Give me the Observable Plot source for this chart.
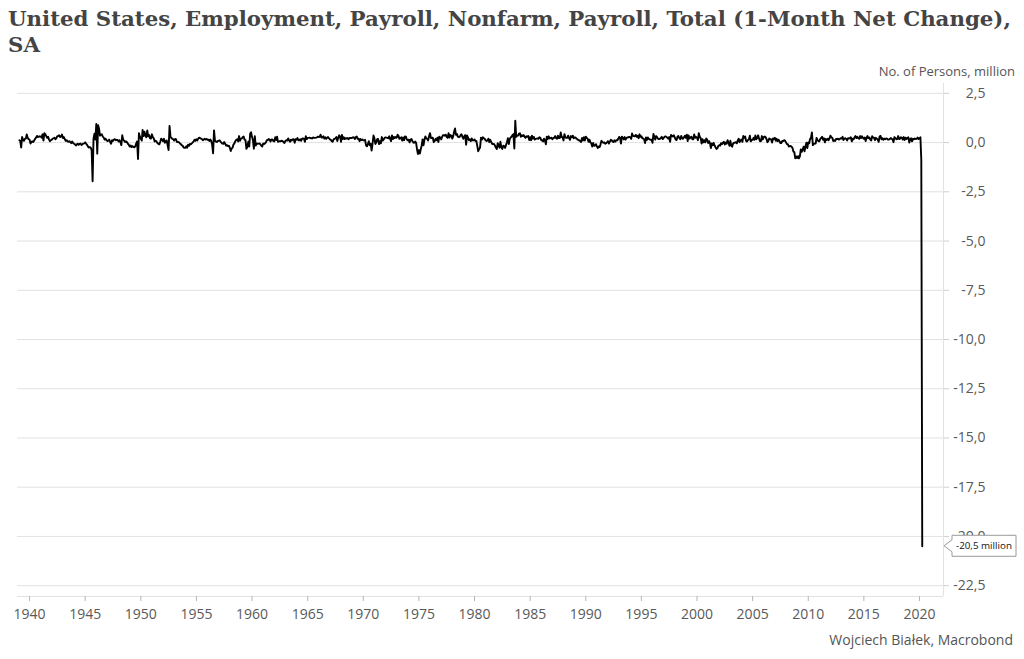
<!DOCTYPE html>
<html><head><meta charset="utf-8">
<script src="https://cdn.jsdelivr.net/npm/d3@7"></script>
<script src="https://cdn.jsdelivr.net/npm/@observablehq/plot@0.6"></script>
<style>
body{margin:0;background:#fff;}
#wrap{position:relative;width:1024px;height:659px;overflow:hidden;background:#fff;}
#title{position:absolute;left:8px;top:6px;z-index:2;font-family:"DejaVu Serif",serif;font-weight:bold;font-size:21.3px;line-height:26px;color:#444;white-space:nowrap;}
#unit{position:absolute;right:9px;top:62px;z-index:2;font-family:"Open Sans",sans-serif;font-size:13px;color:#555;}
#chart{position:absolute;left:0;top:60px;z-index:1;}
#caption{position:absolute;right:11px;top:630px;z-index:2;font-family:"Open Sans",sans-serif;font-size:14px;color:#555;}
</style></head>
<body><div id="wrap"><div id="chart"></div><div id="title">United States, Employment, Payroll, Nonfarm, Payroll, Total (1-Month Net Change),<br>SA</div><div id="unit">No. of Persons, million</div><div id="caption">Wojciech Białek, Macrobond</div></div>
<script>
// Monthly net change in nonfarm payrolls, thousands of persons
const startYear = 1939, startMonth = 1; // first value: February 1939
const d1930s = [120, 90, -250, 280, 150, 90, 190, 210, 410, 250, 170];
const d1940s = [
  150, -50, 30, 60, 30, 110, 190, 250, 340, 280, 300, 320,
  300, 250, 420, 100, 480, 420, 330, 240, 300, 150, 70, 120,
  150, 200, 220, 250, 170, 230, 320, 330, 370, 280, 300, 410,
  230, 280, 180, 90, 120, 60, 40, 70, 20, -30, 50, -20,
  -60, -90, -150, -90, -60, -110, -70, -50, -120, -90, -50, -40,
  10, -60, -110, -200, -250, -230, -250, -400, -1960, 200, 450, 150,
  950, -560, 880, 700, 350, 400, 420, 300, 250, 150, 200, 120,
  80, 100, 150, 30, -60, 120, 80, 150, 170, 120, 140, 130,
  60, 120, 30, -130, 370, 150, 100, 30, 60, 30, -60, -100,
  -200, -150, -230, -180, -220, -240, -200, -50, 60, -830, 480, 300];
const d1950s = [
  200, 100, 640, 330, 550, 350, 270, 620, 320, 380, 210, 200,
  420, 270, 220, 50, 90, 50, -20, -70, -90, 40, 200, 160,
  70, 190, -10, 70, 110, -150, -380, 850, 300, 230, 190, 170,
  100, 180, 170, 30, 30, 20, -30, -70, -130, -150, -240, -270,
  -260, -190, -260, -110, -160, -70, -90, -40, 10, 60, 150, 90,
  170, 110, 200, 250, 230, 200, 180, 120, 160, 200, 150, 180,
  140, 150, 80, 150, 90, -120, -540, 620, 90, 50, 30, 80,
  100, 110, 50, 0, -50, -60, 30, -60, -150, -130, -180, -160,
  -260, -430, -310, -260, -100, -40, 70, 140, 170, 60, 330, 90,
  200, 210, 280, 310, 150, 120, -320, -220, 50, -200, 460, 520];
const d1960s = [
  290, 100, -310, 330, -150, -50, -60, -50, -40, -90, -150, -200,
  -50, -70, -40, 10, 120, 130, 180, 140, 60, 160, 160, 80,
  60, 270, 130, 300, 40, 60, 70, 70, 100, 70, 20, -20,
  90, 120, 100, 210, 110, 40, 150, 110, 170, 170, -10, 170,
  140, 230, 120, 110, 170, 90, 200, 210, 190, 40, 320, 180,
  240, 240, 250, 230, 220, 210, 260, 240, 240, 250, 270, 300,
  280, 300, 400, 250, 260, 320, 200, 270, 190, 240, 280, 220,
  160, 140, 70, 40, 160, 190, 220, 280, 80, 240, 370, 310,
  40, 390, 180, 270, 180, 220, 200, 230, 170, 220, 240, 230,
  240, 270, 260, 180, 280, 310, 190, 200, 70, 180, 130, 160];
const d1970s = [
  110, 110, 140, -140, -190, -80, 70, -140, -60, -410, -60, 360,
  230, -70, 0, 170, 180, -80, 70, -40, 280, 100, 160, 240,
  260, 250, 240, 220, 320, 190, 70, 360, 180, 290, 230, 280,
  250, 400, 340, 190, 210, 270, 100, 260, 120, 310, 300, 160,
  120, 150, 10, 150, 180, 80, 0, -10, 50, -10, -350, -580,
  -380, -560, -350, -160, 160, -140, 140, 310, 210, 190, 110, 330,
  480, 230, 230, 250, 20, 70, 190, 120, 250, 30, 300, 250,
  160, 290, 380, 370, 350, 400, 290, 240, 480, 260, 380, 350,
  200, 330, 550, 720, 390, 440, 300, 280, 290, 380, 420, 280,
  200, 330, 380, -110, 360, 250, 120, 170, 70, 210, 110, 110];
const d1980s = [
  160, 80, 80, -170, -440, -330, -260, 250, 150, 270, 220, 190,
  110, 80, 110, 200, 20, 140, 40, -60, -80, -70, -150, -250,
  -330, -30, -140, -260, 40, -240, -320, -160, -180, -270, -120, 20,
  220, -80, 160, 260, 300, 380, 430, -300, 1110, 290, 350, 360,
  450, 470, 290, 370, 330, 380, 300, 240, 320, 290, 340, 130,
  270, 120, 350, 200, 290, 150, 190, 200, 210, 190, 270, 240,
  120, 120, 60, 200, 110, -90, 300, 180, 320, 210, 230, 250,
  170, 230, 240, 330, 230, 190, 350, 230, 230, 510, 280, 270,
  110, 430, 270, 240, 240, 350, 230, 140, 330, 270, 350, 220,
  260, 260, 200, 170, 120, 120, 70, 30, 240, 110, 270, 100];
const d1990s = [
  300, 240, 200, 40, 150, 10, -30, -200, -20, -160, -150, -80,
  -190, -270, -200, -230, -90, 90, 20, -10, 10, -60, -30, 10,
  70, -50, 50, 140, 110, 50, 30, 120, 50, 120, 110, 190,
  290, 240, -50, 300, 250, 160, 280, 150, 240, 260, 270, 290,
  270, 190, 460, 340, 330, 320, 390, 290, 350, 220, 420, 290,
  320, 220, 210, 170, -20, 260, 130, 260, 190, 160, 140, 150,
  -10, 440, 290, 150, 330, 280, 190, 180, 190, 240, 290, 180,
  230, 300, 310, 290, 250, 200, 280, 40, 390, 340, 310, 370,
  260, 150, 130, 300, 330, 230, 170, 340, 220, 190, 270, 350,
  240, 400, 80, 360, 200, 260, 300, 170, 170, 410, 240, 290];
const d2000s = [
  250, 120, 480, 290, 230, -50, 170, 10, 120, 10, 210, 140,
  -20, 70, -30, -280, -40, -130, -20, -150, -240, -320, -290, -170,
  -130, -150, -30, -80, -10, 40, -100, 0, -60, 120, 10, -160,
  90, -160, -210, -50, -10, 0, 20, -40, 110, 200, 20, 110,
  160, 40, 340, 250, 310, 80, 50, 130, 160, 350, 60, 130,
  140, 240, 140, 360, 170, 240, 370, 200, 70, 80, 330, 160,
  280, 310, 280, 180, 20, 80, 210, 180, 160, 0, 210, 170,
  240, 90, 190, 70, 150, 70, -30, -20, 80, 80, 120, 100,
  10, -80, -80, -200, -180, -170, -210, -270, -460, -480, -800, -700,
  -780, -690, -800, -700, -350, -470, -340, -210, -440, -200, -10, -280];
const d2010s = [
  10, -40, 180, 240, 520, -130, -70, -50, -50, 240, 130, 70,
  70, 190, 230, 300, 140, 220, 10, 180, 130, 190, 120, 230,
  350, 260, 240, 80, 120, 80, 180, 180, 200, 150, 180, 220,
  200, 290, 130, 200, 220, 180, 110, 220, 210, 230, 270, 60,
  190, 170, 270, 330, 230, 290, 230, 190, 330, 230, 320, 240,
  190, 260, 80, 250, 330, 220, 260, 150, 110, 320, 250, 250,
  120, 240, 200, 150, 40, 310, 340, 170, 220, 140, 200, 170,
  210, 200, 150, 150, 180, 230, 190, 160, 20, 280, 230, 170,
  180, 330, 180, 190, 270, 240, 150, 280, 130, 250, 180, 230,
  270, 1, 150, 220, 60, 190, 170, 210, 180, 190, 260, 180];
const d2020s = [210, 270, -870, -20500];

const yTicks = [2.5, 0, -2.5, -5, -7.5, -10, -12.5, -15, -17.5, -20, -22.5];
const xTickYears = [1940, 1945, 1950, 1955, 1960, 1965, 1970, 1975, 1980, 1985, 1990, 1995, 2000, 2005, 2010, 2015, 2020];
const xDomain = [new Date(Date.UTC(1938, 11, 1)), new Date(Date.UTC(2022, 1, 28))];
const yDomain = [-23.05, 3.0];
const unitSuffix = " million";

const monthly = [].concat(d1930s, d1940s, d1950s, d1960s, d1970s, d1980s, d1990s, d2000s, d2010s, d2020s);
const data = monthly.map((v, i) => ({date: new Date(Date.UTC(startYear, startMonth + i, 1)), value: v / 1000}));
const xTicks = xTickYears.map(y => new Date(Date.UTC(y, 0, 1)));

const loc = d3.formatLocale({decimal: ",", thousands: ".", grouping: [3], currency: ["", ""], minus: "-"});
const fmt = loc.format(".1f");

const chart = Plot.plot({
  width: 1024, height: 575,
  marginTop: 23, marginBottom: 39, marginLeft: 17, marginRight: 81,
  style: {fontFamily: "Open Sans, sans-serif", fontSize: "14px", color: "#595959", background: "transparent", overflow: "visible"},
  x: {type: "utc", domain: xDomain, label: null},
  y: {domain: yDomain, label: null},
  marks: [
    Plot.gridY(yTicks, {stroke: "#e2e2e2", strokeOpacity: 1}),
    Plot.ruleX([xDomain[1]], {stroke: "#e2e2e2"}),
    Plot.ruleY([yDomain[0]], {stroke: "#e2e2e2"}),
    Plot.lineY(data, {x: "date", y: "value", stroke: "#000", strokeWidth: 1.9}),
    Plot.axisY(yTicks, {anchor: "right", tickSize: 5, tickPadding: 37, textAnchor: "end", tickFormat: fmt, stroke: "#cfcfcf", fill: "#595959", label: null}),
    Plot.axisX(xTicks, {anchor: "bottom", tickSize: 5, tickPadding: 8, tickFormat: "%Y", stroke: "#b5b5b5", fill: "#595959", label: null})
  ]
});
document.getElementById("chart").appendChild(chart);

// callout for the last observation
const last = data[data.length - 1];
const sy = chart.scale("y");
const tx = 1024 - 81 + 1;
const ty = sy.apply(last.value);
const bx = tx + 8, bw = 64, bh = 21, by = ty - 10.5;
const g = d3.select(chart).append("g");
g.append("path")
  .attr("d", `M${bx},${by}H${bx + bw}V${by + bh}H${bx}V${ty + 6}L${tx},${ty}L${bx},${ty - 6}Z`)
  .attr("fill", "white").attr("stroke", "#9a9a9a");
g.append("text").attr("x", bx + 4).attr("y", ty).attr("dy", "0.35em")
  .attr("text-anchor", "start")
  .attr("font-size", 9.8).attr("font-family", "Open Sans, sans-serif").attr("fill", "#111")
  .text(fmt(last.value) + unitSuffix);
</script>
</body></html>
